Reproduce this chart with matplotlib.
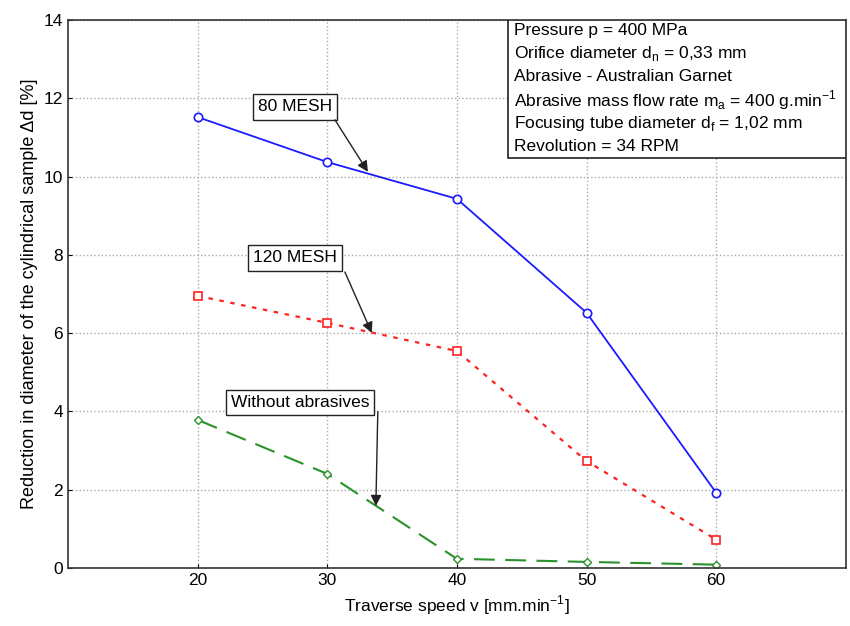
import matplotlib
matplotlib.use("Agg")
import matplotlib.pyplot as plt
from matplotlib.patches import Rectangle

plt.rcParams["font.family"] = ["Liberation Sans", "DejaVu Sans"]
plt.rcParams["font.size"] = 12.5
plt.rcParams["mathtext.fontset"] = "custom"
plt.rcParams["mathtext.rm"] = "Liberation Sans"

speed = [20, 30, 40, 50, 60]
mesh80 = [11.52, 10.37, 9.43, 6.52, 1.92]
mesh120 = [6.95, 6.26, 5.54, 2.73, 0.72]
no_abr = [3.78, 2.40, 0.23, 0.15, 0.08]

info_lines = ["Pressure p = 400 MPa",
              "Orifice diameter d$_\\mathregular{n}$ = 0,33 mm",
              "Abrasive - Australian Garnet",
              "Abrasive mass flow rate m$_\\mathregular{a}$ = 400 g.min$^\\mathregular{-1}$",
              "Focusing tube diameter d$_\\mathregular{f}$ = 1,02 mm",
              "Revolution = 34 RPM"]

fig = plt.figure(figsize=(8.5, 6.26), dpi=100)
ax = fig.add_axes([0.08, 0.093, 0.915, 0.875])

ax.plot(speed, mesh80, "-", color="#1a1aff", lw=1.3, marker="o", ms=6,
        mfc="white", mec="#1a1aff", mew=1.2)
ax.plot(speed, mesh120, ":", color="#ff2020", lw=1.6, marker="s", ms=6,
        mfc="white", mec="#ff2020", mew=1.2, dashes=(2, 3))
ax.plot(speed, no_abr, "--", color="#2a922a", lw=1.5, marker="D", ms=4.5,
        mfc="white", mec="#2a922a", mew=1.0, dashes=(10, 5))

ax.set_xlim(10, 70)
ax.set_ylim(0, 14)
ax.set_xticks(speed)
ax.set_yticks(range(0, 15, 2))
ax.grid(True, color="#aaaaaa", linestyle=":", linewidth=1.0)
ax.tick_params(direction="in", length=3, labelsize=12.5)
for s in ax.spines.values():
    s.set_linewidth(1.2)
    s.set_color("#333333")

ax.set_xlabel("Traverse speed v [mm.min$^\\mathregular{-1}$]")
ax.set_ylabel("Reduction in diameter of the cylindrical sample \u0394d [%]",
              fontsize=13)

box = dict(boxstyle="square,pad=0.3", fc="white", ec="#222222", lw=1.0)
arrow = dict(arrowstyle="-|>", color="#222222", lw=1.0, mutation_scale=16,
             shrinkA=0, shrinkB=0)
ax.text(27.5, 11.78, "80 MESH", ha="center", va="center", bbox=box)
ax.annotate("", xy=(33.14, 10.12), xytext=(30.59, 11.45), arrowprops=arrow)
ax.text(27.5, 7.92, "120 MESH", ha="center", va="center", bbox=box)
ax.annotate("", xy=(33.44, 6.0), xytext=(31.36, 7.56), arrowprops=arrow)
ax.text(27.9, 4.22, "Without abrasives", ha="center", va="center", bbox=box)
ax.annotate("", xy=(33.75, 1.58), xytext=(33.9, 3.99), arrowprops=arrow)

ax.add_patch(Rectangle((0.5656, 0.748), 0.4344, 0.252, transform=ax.transAxes,
                       fc="white", ec="#222222", lw=1.2, zorder=5))
line_y = [0.980, 0.938, 0.896, 0.854, 0.812, 0.770]
for txt, yy in zip(info_lines, line_y):
    ax.text(0.574, yy, txt, transform=ax.transAxes, ha="left", va="center",
            zorder=6)

fig.savefig("out.png", dpi=100)
